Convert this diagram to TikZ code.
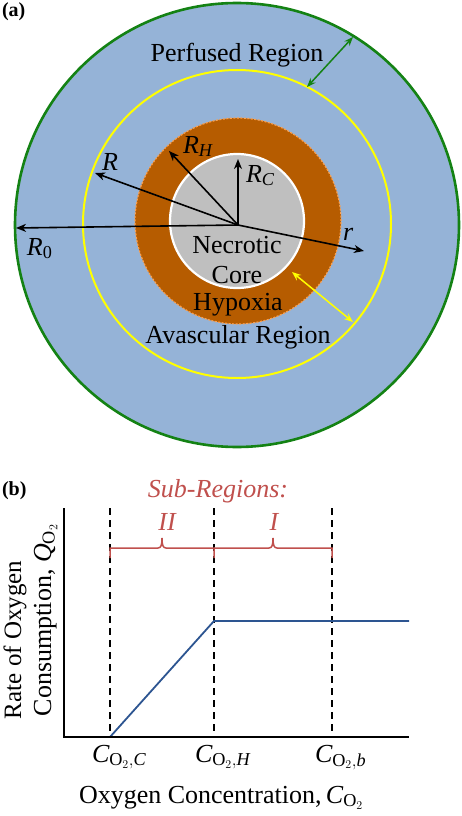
\documentclass[tikz,border=0pt]{standalone}
\usepackage{fontspec}
\setmainfont{Liberation Serif}
\usetikzlibrary{arrows.meta}
\definecolor{perf}{RGB}{149,179,215}
\definecolor{hyp}{RGB}{182,92,0}
\definecolor{hypb}{RGB}{250,160,80}
\definecolor{corec}{RGB}{191,191,191}
\definecolor{grn}{RGB}{20,130,20}
\definecolor{ylw}{RGB}{255,255,0}
\definecolor{subred}{RGB}{192,80,77}
\definecolor{curvec}{RGB}{45,85,145}
\newcommand{\COx}[1]{$\mathit{C}_{\mathrm{O}_{2},\mathit{#1}}$}
\begin{document}
\begin{tikzpicture}[x=1pt,y=-1pt,
  every node/.style={inner sep=0pt, outer sep=0pt, font=\fontsize{26}{30}\selectfont},
  txt/.style={anchor=base},
  txtw/.style={anchor=base west},
  panel/.style={anchor=base west, font=\fontsize{20}{24}\selectfont\bfseries},
  radarrow/.style={draw=black, line width=1.6pt, -{Stealth[length=10pt,width=8pt,inset=3pt]}},
  dblarrow/.style={line width=1.5pt, {Stealth[length=9pt,width=7pt,inset=3pt]}-{Stealth[length=9pt,width=7pt,inset=3pt]}},
  guide/.style={draw=black, line width=1.8pt, dash pattern=on 7pt off 5pt},
  axis/.style={draw=black, line width=2.6pt},
  subtxt/.style={anchor=base, text=subred, font=\fontsize{26}{30}\selectfont\itshape}
]
\useasboundingbox (0,0) rectangle (462,816);

% ---------- panel (a) ----------
\fill[perf] (237,225) circle[radius=222pt];
\draw[grn, line width=2.6pt] (237,225) circle[radius=222pt];
\draw[ylw, line width=2pt] (237,224) circle[radius=154pt];
\fill[hyp] (238,221) circle[radius=103pt];
\draw[hypb, line width=1.2pt, dash pattern=on 2pt off 1.5pt] (238,221) circle[radius=103pt];
\fill[corec] (237,221) circle[radius=67pt];
\draw[white, line width=2.2pt] (237,221) circle[radius=67pt];

\coordinate (O) at (238,225);
\coordinate (tR0) at (16,228);
\coordinate (tR) at (95,173);
\coordinate (tRH) at (169,151);
\coordinate (tRC) at (238,159);
\coordinate (tr) at (364,251);
\coordinate (g1) at (307,87);
\coordinate (g2) at (353,37);
\coordinate (y1) at (292,272);
\coordinate (y2) at (353,322);

\draw[radarrow] (O) -- (tR0);
\draw[radarrow] (O) -- (tR);
\draw[radarrow] (O) -- (tRH);
\draw[radarrow] (O) -- (tRC);
\draw[radarrow] (O) -- (tr);
\draw[dblarrow, grn] (g1) -- (g2);
\draw[dblarrow, ylw] (y1) -- (y2);

\node[panel] (pa) at (2,17) {(a)};
\node[txt] (perfused) at (237,62) {Perfused Region};
\node[txt] (necrotic) at (237,253) {Necrotic};
\node[txt] (core) at (237,283) {Core};
\node[txt] (hypoxia) at (238,310) {Hypoxia};
\node[txt] (avascular) at (238,343) {Avascular Region};
\node[txtw] (lR) at (102,170) {$\mathit{R}$};
\node[txtw] (lRH) at (183,153) {$\mathit{R}_{\mathit{H}}$};
\node[txtw] (lRC) at (246,182) {$\mathit{R}_{\mathit{C}}$};
\node[txtw] (lR0) at (27,255) {$\mathit{R}_{\mathrm{0}}$};
\node[txtw] (lr) at (343,240) {$\mathit{r}$};

% ---------- panel (b) ----------
\node[panel] (pb) at (2,495) {(b)};
\node[subtxt] (subreg) at (218,497) {Sub-Regions:};
\node[subtxt] (lII) at (167,530) {II};
\node[subtxt] (lI) at (274,530) {I};

\coordinate (ytop) at (64,508);
\coordinate (orig) at (64,737);
\coordinate (xend) at (409,737);
\coordinate (dC) at (110,508);
\coordinate (dH) at (214,508);
\coordinate (db) at (332,508);
\coordinate (bC) at (110,737);
\coordinate (bH) at (214,737);
\coordinate (bb) at (332,737);
\coordinate (kink) at (214,621);
\coordinate (cend) at (409,621);

\draw[guide] (dC) -- (bC);
\draw[guide] (dH) -- (bH);
\draw[guide] (db) -- (bb);

\draw[subred, line width=1.5pt]
  (110,558) -- (110,548) -- (158,548)
  .. controls (161,548) and (162,545) .. (162,538)
  .. controls (162,545) and (163,548) .. (166,548)
  -- (214,548) -- (214,558);
\draw[subred, line width=1.5pt]
  (214,548) -- (269,548)
  .. controls (272,548) and (273,545) .. (273,538)
  .. controls (273,545) and (274,548) .. (277,548)
  -- (332,548) -- (332,558);

\draw[curvec, line width=1.8pt] (bC) -- (kink) -- (cend);
\draw[axis] (ytop) -- (orig) -- (xend);

\node[txtw] (tC) at (92,762) {\COx{C}};
\node[txtw] (tH) at (195,762) {\COx{H}};
\node[txtw] (tb) at (315,762) {\COx{b}};
\node[txtw] (xlab) at (79,803) {Oxygen Concentration,\,$\mathit{C}_{\mathrm{O}_{2}}$};
\node[txtw, rotate=90, font=\fontsize{25}{30}\selectfont] (ylab1) at (21,719) {Rate of Oxygen};
\node[txtw, rotate=90] (ylab2) at (51,716) {Consumption, $\mathit{Q}_{\mathrm{O}_{2}}$};
\end{tikzpicture}
\end{document}
